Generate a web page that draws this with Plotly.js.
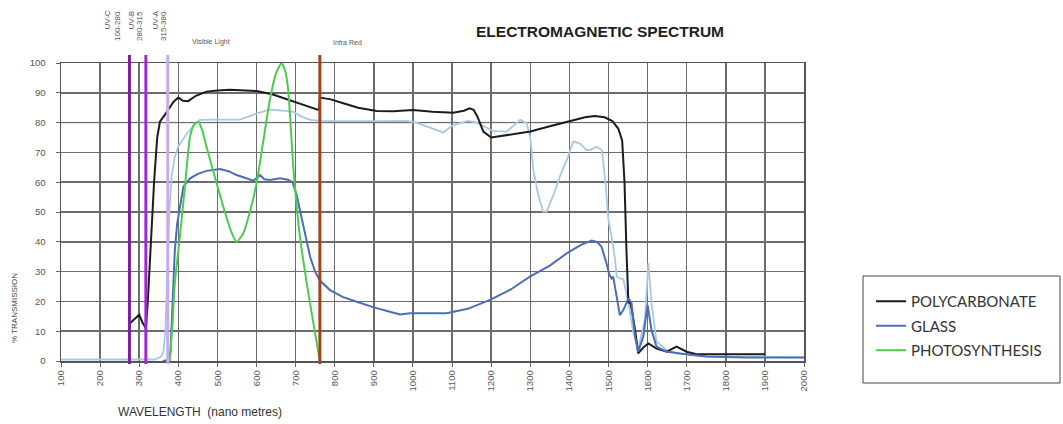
<!DOCTYPE html>
<html>
<head>
<meta charset="utf-8">
<script src="https://cdn.plot.ly/plotly-3.0.1.min.js"></script>
<style>
html,body{margin:0;padding:0;background:#fff;}
#chart{width:1063px;height:424px;}
</style>
</head>
<body>
<div id="chart"></div>
<script>
// ---------- data ----------
const seriesNames = ['POLYCARBONATE', 'GLASS', 'PHOTOSYNTHESIS'];

const polyX = [275, 288, 300, 308, 317, 322, 330, 338, 346, 353, 365, 374, 388, 400, 412, 425, 445, 472, 500, 532, 600, 640, 685, 725, 760, 762, 790, 822, 860, 907, 950, 1000, 1050, 1103, 1130, 1145, 1155, 1165, 1180, 1200, 1250, 1300, 1350, 1400, 1440, 1465, 1490, 1510, 1525, 1535, 1541, 1546, 1551, 1555, 1560, 1568, 1576, 1589, 1602, 1623, 1649, 1674, 1700, 1725, 1800, 1900];
const polyY = [12.5, 14, 15.5, 13, 11, 20, 40, 60, 75, 80.3, 82.5, 84.2, 87, 88.4, 87.3, 87.2, 89, 90.4, 90.8, 91, 90.6, 89.5, 87.6, 85.8, 84.2, 88.4, 87.8, 86.5, 85, 83.9, 83.8, 84.2, 83.6, 83.3, 84, 84.8, 84.3, 82, 77, 75, 76, 77, 78.8, 80.6, 81.8, 82.2, 81.8, 80.5, 78, 74, 60, 37, 19.4, 20, 17, 10.4, 2.6, 4.5, 5.9, 4.2, 3.1, 4.8, 3.1, 2.3, 2.3, 2.3];

const glassX = [360, 376, 380, 385, 391, 397, 403, 413, 430, 450, 472, 507, 530, 549, 570, 592, 609, 620, 634, 660, 680, 692, 702, 711, 724, 737, 750, 762, 788, 820, 856, 900, 941, 967, 992, 1050, 1086, 1140, 1197, 1250, 1299, 1350, 1393, 1430, 1457, 1470, 1482, 1495, 1502, 1508, 1512, 1521, 1529, 1538, 1551, 1559, 1568, 1576, 1589, 1600, 1610, 1623, 1649, 1683, 1750, 1850, 2000];
const glassY = [0, 0.3, 3, 20, 37, 46, 50.7, 58.5, 61.3, 62.8, 63.8, 64.4, 63.6, 62.4, 61.5, 60.5, 62.4, 61, 60.7, 61.3, 60.8, 60, 56, 50.7, 42, 35, 30, 27, 23.8, 21.5, 19.9, 18, 16.5, 15.6, 16, 16, 16, 17.5, 20.5, 24, 28.3, 32, 36.1, 39, 40.4, 40, 38.4, 32.8, 29, 27.7, 28.3, 21.6, 15.4, 17.1, 21, 19.4, 8.2, 3.1, 8.2, 18.8, 10.4, 4.8, 3.1, 2.5, 1.5, 1.2, 1.2];

const glassUvX = [100, 340, 355, 362, 367, 372, 377, 383, 390, 400, 420, 440, 455, 500, 558, 600, 634, 665, 694, 715, 737, 766, 800, 900, 984, 1009, 1040, 1077, 1103, 1141, 1163, 1185, 1205, 1240, 1274, 1291, 1300, 1308, 1320, 1333, 1342, 1360, 1376, 1395, 1410, 1427, 1444, 1453, 1470, 1483, 1492, 1500, 1508, 1517, 1521, 1529, 1538, 1551, 1563, 1576, 1593, 1602, 1610, 1623, 1649, 1683, 1750, 2000];
const glassUvY = [0.5, 0.5, 1.4, 3, 10, 30, 50, 62, 68, 72, 76, 79, 80.9, 81, 81, 83, 84.4, 84, 83.6, 82, 80.9, 80.6, 80.5, 80.5, 80.6, 80, 78.5, 76.7, 79.2, 80.6, 80, 78.5, 77.2, 77, 80.9, 79.8, 75, 64, 56, 50.1, 50.1, 56, 62, 68, 73.7, 73, 70.8, 70.8, 71.9, 70.8, 60, 47.3, 41.7, 34, 28.3, 27.7, 27.5, 19.4, 10, 4, 13.8, 32.8, 19.4, 6.5, 3.6, 2.5, 1.5, 1.2];

const photoX = [378, 385, 391, 404, 418, 430, 441, 451, 461, 472, 493, 515, 535, 549, 566, 583, 600, 617, 634, 650, 664, 673, 681, 694, 711, 736, 762];
const photoY = [0, 12, 26, 41.7, 60, 75.3, 79.5, 80.3, 77.5, 71.9, 62, 51.8, 43.5, 40, 42.8, 50, 59.6, 73.5, 87.6, 96.5, 99.9, 97.5, 90.9, 65.2, 41.7, 20, 0];

// band boundary markers (nm)
const bandLines = [275, 317, 373, 762];
const bandLabels = ['UV-C', '100-280', 'UV-B', '280-315', 'UV-A', '315-380'];
const regionLabels = ['Visible Light', 'Infra Red'];

const xTicks = [100,200,300,400,500,600,700,800,900,1000,1100,1200,1300,1400,1500,1600,1700,1800,1900,2000];
const yTicks = [0,10,20,30,40,50,60,70,80,90,100];

// ---------- layout helpers (pixel -> paper) ----------
const W = 1063, H = 424;
const M = {l: 61, r: 259, t: 63, b: 63};
const PW = W - M.l - M.r, PH = H - M.t - M.b;
const px = v => (v - M.l) / PW;
const py = v => (H - M.b - v) / PH;

const traces = [
  {x: glassUvX, y: glassUvY, mode: 'lines', name: 'GLASS (UV)', showlegend: false,
   line: {color: '#a9c8e6', width: 1.8}, hoverinfo: 'skip'},
  {x: polyX, y: polyY, mode: 'lines', name: seriesNames[0],
   line: {color: '#1c1c1c', width: 2}},
  {x: glassX, y: glassY, mode: 'lines', name: seriesNames[1],
   line: {color: '#4c6cbc', width: 2}},
  {x: photoX, y: photoY, mode: 'lines', name: seriesNames[2],
   line: {color: '#4ccb4c', width: 2, shape: 'spline', smoothing: 0.6}}
];
traces[1].legendrank = 1; traces[2].legendrank = 2; traces[3].legendrank = 3;
traces[1].legendgroup = 'a'; traces[2].legendgroup = 'b'; traces[3].legendgroup = 'c';

const lineColors = ['#7a1f9e', '#a326cf', '#c9aaee', '#a3401e'];
const shapes = bandLines.map((v, i) => ({
  type: 'line', xref: 'x', yref: 'paper', x0: v, x1: v, y0: py(364), y1: py(55),
  line: {color: lineColors[i], width: 3}, layer: 'above'
}));
shapes.push({type: 'line', xref: 'paper', yref: 'y', x0: 0, x1: 1, y0: 80, y1: 80,
  line: {color: '#cfcfcf', width: 1.6}, layer: 'between'});
shapes.push({type: 'rect', xref: 'paper', yref: 'paper',
  x0: px(863), x1: px(1060), y0: py(383), y1: py(276),
  line: {color: '#444', width: 1}, fillcolor: 'rgba(0,0,0,0)'});

const smallFont = {family: 'Liberation Sans, Arial, sans-serif', size: 8, color: '#555'};
const bandX = [107, 118, 131, 140, 155, 164];
const annotations = bandLabels.map((t, i) => ({
  text: t, xref: 'paper', yref: 'paper', x: px(bandX[i]), y: py(9),
  xanchor: 'center', yanchor: 'top', textangle: -90, showarrow: false, font: smallFont
}));
annotations.push({text: regionLabels[0], xref: 'paper', yref: 'paper', x: px(211), y: py(42),
  xanchor: 'center', yanchor: 'middle', showarrow: false, font: {family: smallFont.family, size: 7, color: '#555'}});
annotations.push({text: regionLabels[1], xref: 'paper', yref: 'paper', x: px(347), y: py(42),
  xanchor: 'center', yanchor: 'middle', showarrow: false, font: {family: smallFont.family, size: 7, color: '#555'}});
annotations.push({text: 'ELECTROMAGNETIC SPECTRUM', xref: 'paper', yref: 'paper', x: px(600), y: py(32),
  xanchor: 'center', yanchor: 'middle', showarrow: false,
  font: {family: 'Liberation Sans, Arial, sans-serif', size: 15.5, color: '#1e1e1e', weight: 'bold'}});
annotations.push({text: '% TRANSMISSION', xref: 'paper', yref: 'paper', x: px(14), y: py(308),
  xanchor: 'center', yanchor: 'middle', textangle: -90, showarrow: false,
  font: {family: 'Liberation Sans, Arial, sans-serif', size: 8, color: '#444'}});
annotations.push({text: 'WAVELENGTH&nbsp;&nbsp;(nano metres)', xref: 'paper', yref: 'paper', x: px(200), y: py(412),
  xanchor: 'center', yanchor: 'middle', showarrow: false,
  font: {family: 'Liberation Sans, Arial, sans-serif', size: 12, color: '#333'}});

const tickFont = {family: 'Liberation Sans, Arial, sans-serif', size: 9.5, color: '#555'};
const layout = {
  width: W, height: H,
  margin: M,
  paper_bgcolor: '#ffffff', plot_bgcolor: '#ffffff',
  showlegend: true,
  legend: {
    xref: 'container', yref: 'container',
    x: 871 / W, y: 1 - 285 / H, xanchor: 'left', yanchor: 'top',
    bgcolor: 'rgba(0,0,0,0)', borderwidth: 0,
    traceorder: 'grouped', tracegroupgap: 2,
    font: {family: 'Lato, Open Sans, sans-serif', size: 15, color: '#333'}
  },
  xaxis: {
    range: [100, 2000], tickvals: xTicks, ticktext: xTicks.map(String),
    tickangle: -90, tickfont: tickFont,
    showgrid: true, gridcolor: '#6c6c6c', gridwidth: 1.5,
    showline: true, linecolor: '#555', linewidth: 1.5, mirror: true,
    ticks: 'outside', ticklen: 4, tickcolor: '#666', zeroline: false, fixedrange: true
  },
  yaxis: {
    range: [0, 100], tickvals: yTicks, ticktext: yTicks.map(String),
    tickfont: tickFont, ticklabelstandoff: 8,
    showgrid: true, gridcolor: '#6c6c6c', gridwidth: 1.5,
    showline: true, linecolor: '#555', linewidth: 1.5, mirror: true,
    ticks: 'outside', ticklen: 4, tickcolor: '#666', zeroline: false, fixedrange: true
  },
  shapes: shapes,
  annotations: annotations
};

Plotly.newPlot('chart', traces, layout, {displayModeBar: false, staticPlot: true});
</script>
</body>
</html>
